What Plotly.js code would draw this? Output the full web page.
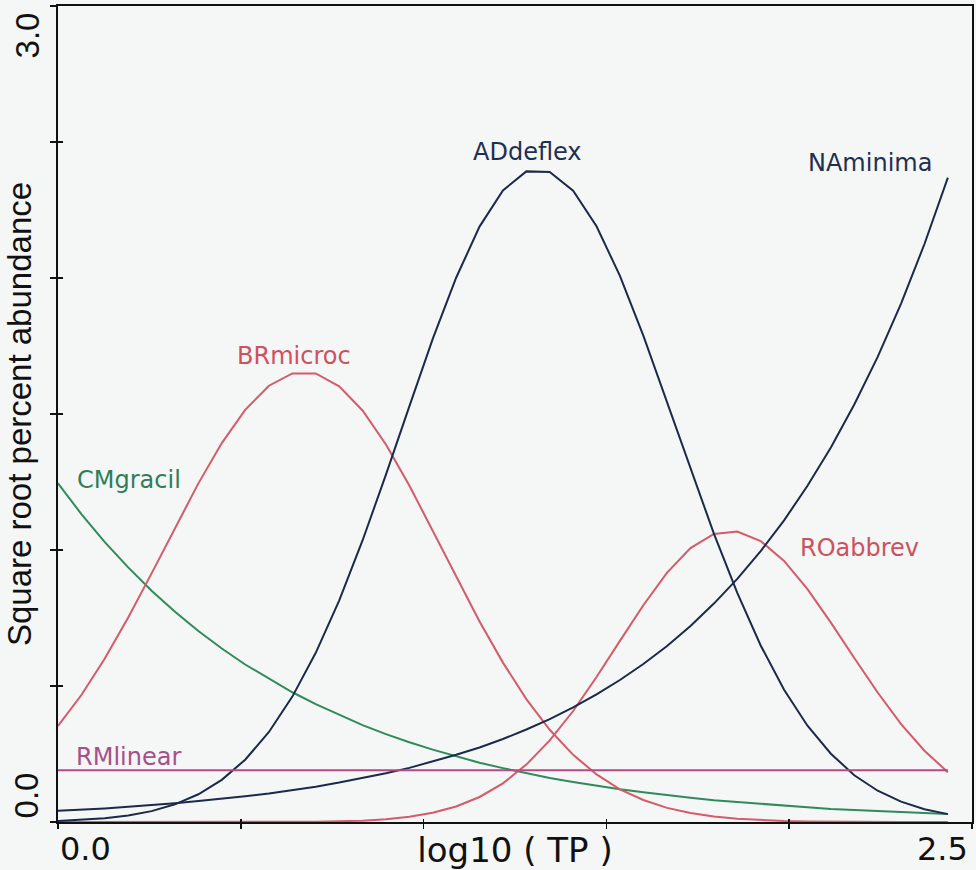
<!DOCTYPE html>
<html>
<head>
<meta charset="utf-8">
<script src="https://cdn.plot.ly/plotly-3.0.1.min.js"></script>
<style>
  html, body { margin: 0; padding: 0; background: #f5f6f6; }
  #chart { width: 976px; height: 870px; }
</style>
</head>
<body>
<div id="chart"></div>
<script>
// log10(TP) sample positions of the fitted response curves
const tp = [0.000,0.064,0.128,0.192,0.256,0.320,0.384,0.448,0.512,0.577,
            0.641,0.705,0.769,0.833,0.897,0.961,1.025,1.089,1.153,1.217,
            1.281,1.345,1.409,1.473,1.537,1.601,1.666,1.730,1.794,1.858,
            1.922,1.986,2.050,2.114,2.178,2.242,2.306,2.370,2.434];

// square root percent abundance
const ADdeflex = [0.004,0.008,0.014,0.024,0.040,0.065,0.102,0.155,0.229,0.331,
                  0.461,0.622,0.814,1.035,1.277,1.528,1.776,2.001,2.189,2.322,
                  2.392,2.390,2.321,2.190,2.008,1.788,1.544,1.298,1.060,0.842,
                  0.649,0.486,0.354,0.251,0.172,0.115,0.075,0.047,0.029];
const NAminima = [0.041,0.045,0.050,0.056,0.062,0.069,0.077,0.085,0.095,0.105,
                  0.117,0.130,0.145,0.161,0.179,0.199,0.222,0.247,0.274,0.305,
                  0.340,0.378,0.421,0.469,0.522,0.581,0.647,0.721,0.803,0.894,
                  0.996,1.109,1.236,1.377,1.535,1.710,1.906,2.125,2.369];
const BRmicroc = [0.353,0.467,0.601,0.752,0.914,1.082,1.245,1.393,1.515,1.604,
                  1.649,1.649,1.602,1.513,1.388,1.237,1.071,0.901,0.737,0.586,
                  0.452,0.339,0.247,0.175,0.120,0.081,0.052,0.033,0.020,0.012,
                  0.007,0.004,0.002,0.001,0.000,0.000,0.000,0.000,0.000];
const CMgracil = [1.245,1.132,1.029,0.936,0.850,0.773,0.702,0.638,0.579,0.526,
                  0.477,0.433,0.393,0.356,0.323,0.293,0.266,0.241,0.218,0.198,
                  0.179,0.162,0.147,0.133,0.120,0.109,0.098,0.089,0.080,0.073,
                  0.066,0.059,0.054,0.048,0.044,0.039,0.036,0.032,0.029];
const ROabbrev = [0.000,0.000,0.000,0.000,0.000,0.000,0.000,0.000,0.000,0.000,
                  0.001,0.001,0.003,0.005,0.010,0.019,0.034,0.057,0.092,0.142,
                  0.211,0.300,0.408,0.533,0.666,0.797,0.917,1.007,1.059,1.068,
                  1.033,0.960,0.856,0.733,0.603,0.476,0.360,0.262,0.183];
const RMlinear = [0.19,0.19,0.19,0.19,0.19,0.19,0.19,0.19,0.19,0.19,
                  0.19,0.19,0.19,0.19,0.19,0.19,0.19,0.19,0.19,0.19,
                  0.19,0.19,0.19,0.19,0.19,0.19,0.19,0.19,0.19,0.19,
                  0.19,0.19,0.19,0.19,0.19,0.19,0.19,0.19,0.19];

const xTicks = [0, 0.5, 1.0, 1.5, 2.0, 2.5];
const yTicks = [0, 0.5, 1.0, 1.5, 2.0, 2.5, 3.0];
const xRange = [0, 2.5];
const yRange = [0, 3];

const NAVY = '#1b2a4a', RED = '#d65a67', GREEN = '#2f8a5c', MAG = '#b34a86';
const LAB_NAVY = '#1f2f52', LAB_RED = '#cc525e', LAB_GREEN = '#2e7f58', LAB_MAG = '#a6508a';

function curve(y, color, name, axes) {
  const t = { x: tp, y: y, type: 'scatter', mode: 'lines', name: name,
              line: { color: color, width: 2 }, hoverinfo: 'name' };
  if (axes) { t.xaxis = 'x2'; t.yaxis = 'y2'; }
  return t;
}

const traces = [
  curve(RMlinear, MAG, 'RMlinear', true),
  curve(CMgracil, GREEN, 'CMgracil'),
  curve(BRmicroc, RED, 'BRmicroc'),
  curve(ROabbrev, RED, 'ROabbrev'),
  curve(NAminima, NAVY, 'NAminima'),
  curve(ADdeflex, NAVY, 'ADdeflex')
];

const labFont = (c) => ({ family: 'DejaVu Sans, sans-serif', size: 24, color: c });
function lab(text, x, y, c) {
  return { text: text, x: x, y: y, xref: 'x', yref: 'y', showarrow: false,
           xanchor: 'center', yanchor: 'middle', font: labFont(c) };
}

const tickFontH = { family: 'DejaVu Sans, sans-serif', size: 32, color: '#111' };
const tickFontV = { family: 'Liberation Sans, Arial, sans-serif', size: 33, color: '#111' };

const annotations = [
  lab('ADdeflex', 1.283, 2.463, LAB_NAVY),
  lab('NAminima', 2.222, 2.421, LAB_NAVY),
  lab('BRmicroc', 0.6455, 1.715, LAB_RED),
  lab('CMgracil', 0.194, 1.259, LAB_GREEN),
  lab('ROabbrev', 2.192, 1.007, LAB_RED),
  lab('RMlinear', 0.1915, 0.239, LAB_MAG),
  { text: '0.0', xref: 'paper', yref: 'paper', x: 0, y: -0.0325, xanchor: 'left', yanchor: 'middle',
    showarrow: false, font: tickFontH },
  { text: '2.5', xref: 'paper', yref: 'paper', x: 0.9978, y: -0.0325, xanchor: 'right', yanchor: 'middle',
    showarrow: false, font: tickFontH },
  { text: '3.0', xref: 'paper', yref: 'paper', x: -0.0334, y: 0.9645, xanchor: 'center', yanchor: 'middle',
    textangle: -90, showarrow: false, font: tickFontV },
  { text: '0.0', xref: 'paper', yref: 'paper', x: -0.0334, y: 0.0331, xanchor: 'center', yanchor: 'middle',
    textangle: -90, showarrow: false, font: tickFontV }
];

const axisCommon = { showgrid: false, zeroline: false, showticklabels: false,
                     tickcolor: '#111', tickwidth: 1.5, fixedrange: true };

const layout = {
  width: 976, height: 870,
  margin: { l: 58, r: 4, t: 6, b: 48, pad: 0 },
  paper_bgcolor: '#f5f6f6', plot_bgcolor: '#f5f6f6',
  showlegend: false,
  xaxis: Object.assign({}, axisCommon, {
    range: xRange, tickmode: 'array', tickvals: xTicks,
    showline: true, linecolor: '#111', linewidth: 2, mirror: true,
    ticks: 'outside', ticklen: 5,
    title: { text: 'log10 ( TP )', standoff: 10,
             font: { family: 'DejaVu Sans, sans-serif', size: 34, color: '#111' } }
  }),
  yaxis: Object.assign({}, axisCommon, {
    range: yRange, tickmode: 'array', tickvals: yTicks,
    showline: true, linecolor: '#111', linewidth: 2, mirror: true,
    ticks: 'outside', ticklen: 6,
    title: { text: 'Square root percent abundance', standoff: 8,
             font: { family: 'Liberation Sans, Arial, sans-serif', size: 33, color: '#111' } }
  }),
  xaxis2: Object.assign({}, axisCommon, {
    range: xRange, tickmode: 'array', tickvals: xTicks, overlaying: 'x', anchor: 'y2',
    showline: false, ticks: 'inside', ticklen: 3
  }),
  yaxis2: Object.assign({}, axisCommon, {
    range: yRange, tickmode: 'array', tickvals: yTicks, overlaying: 'y', anchor: 'x2',
    showline: false, ticks: 'inside', ticklen: 5
  }),
  annotations: annotations
};

Plotly.newPlot('chart', traces, layout, { displayModeBar: false, staticPlot: true });
</script>
</body>
</html>
